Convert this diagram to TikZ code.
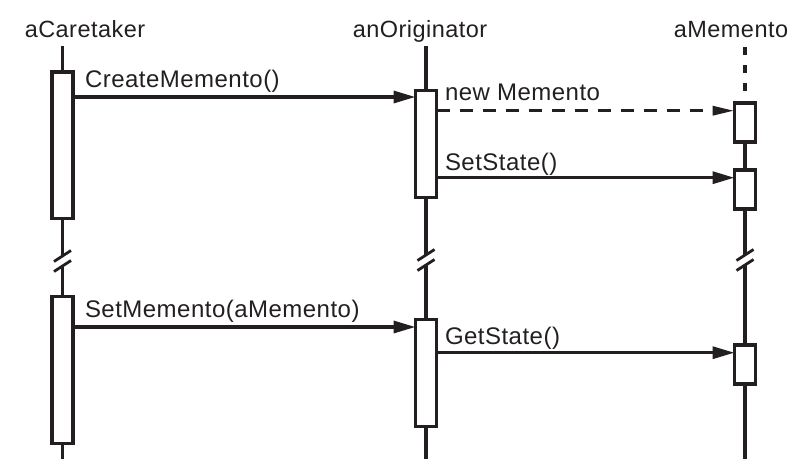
\documentclass[tikz,border=0pt]{standalone}
\usepackage{fontspec}
\setmainfont[LetterSpace=2]{Liberation Sans}
\usetikzlibrary{arrows.meta,calc}
\definecolor{ink}{HTML}{231F20}
\begin{document}
\begin{tikzpicture}[x=1pt,y=-1pt,
  every node/.style={inner sep=0pt,outer sep=0pt,text=ink},
  lbl/.style={font=\fontsize{24}{26}\selectfont,anchor=base west},
  ttl/.style={font=\fontsize{23.5}{26}\selectfont,anchor=base},
  act/.style={draw=ink,fill=white,line width=3.3pt,minimum width=21pt},
  life/.style={draw=ink,line width=3.3pt},
  lifethin/.style={draw=ink,line width=2.8pt},
  msg/.style={draw=ink,line width=3.3pt,-{Triangle[length=22pt,width=12pt]}},
  create/.style={draw=ink,line width=3.3pt,dash pattern=on 13pt off 10pt,-{Triangle[length=22pt,width=9pt]}},
  brk/.style={draw=ink,line width=2.8pt},
]
\useasboundingbox (0,0) rectangle (803,475);

% titles
\node[ttl] (tc) at (85,37.5) {aCaretaker};
\node[ttl] (to) at (420,37.5) {anOriginator};
\node[ttl] (tm) at (731,37.5) {aMemento};

% activation boxes
\node[act,minimum height=146.5pt] (c1) at (62.5,145.3) {};
\node[act,minimum height=147pt] (c2) at (62.5,370) {};
\node[act,minimum height=107pt] (o1) at (426,144) {};
\node[act,minimum height=107pt] (o2) at (426,373) {};
\node[act,minimum height=39pt] (ma) at (745,122.5) {};
\node[act,minimum height=39pt] (mb) at (745,189.5) {};
\node[act,minimum height=39pt] (mc) at (745,364.5) {};

% lifeline end points
\coordinate (ctop) at (62.5,46);
\coordinate (cb1) at (62.5,256);
\coordinate (cb2) at (62.5,266);
\coordinate (cbot) at (62.5,459);
\coordinate (otop) at (426,46);
\coordinate (ob1) at (426,255);
\coordinate (ob2) at (426,265);
\coordinate (obot) at (426,459);
\coordinate (mtop) at (745,47);
\coordinate (mb1) at (745,255);
\coordinate (mb2) at (745,265);
\coordinate (mbot) at (745,459);

\draw[life] (ctop) -- (c1.north);
\draw[life] (c1.south) -- (cb1);
\draw[lifethin] (cb2) -- (c2.north);
\draw[lifethin] (c2.south) -- (cbot);
\draw[life] (otop) -- (o1.north);
\draw[life] (o1.south) -- (ob1);
\draw[life] (ob2) -- (o2.north);
\draw[life] (o2.south) -- (obot);
\draw[life,dash pattern=on 8pt off 10pt] (mtop) -- (ma.north);
\draw[life] (ma.south) -- (mb.north);
\draw[life] (mb.south) -- (mb1);
\draw[life] (mb2) -- (mc.north);
\draw[life] (mc.south) -- (mbot);

% break marks
\foreach \p in {cb1,cb2,ob1,ob2,mb1,mb2}{
  \draw[brk] ($(\p)+(-8.5,5.5)$) -- ($(\p)+(8.5,-5.5)$);
}

% message y levels
\coordinate (y1) at (0,97);
\coordinate (y2) at (0,110.7);
\coordinate (y3) at (0,177.7);
\coordinate (y4) at (0,327);
\coordinate (y5) at (0,352.7);

\draw[msg] (c1.east |- y1) -- (o1.west |- y1);
\draw[create] (o1.east |- y2) -- (ma.west |- y2);
\draw[msg] (o1.east |- y3) -- (mb.west |- y3);
\draw[msg] (c2.east |- y4) -- (o2.west |- y4);
\draw[msg] (o2.east |- y5) -- (mc.west |- y5);

% labels
\node[lbl] (l1) at (85,87.3) {CreateMemento()};
\node[lbl] (l2) at (445,100.7) {new Memento};
\node[lbl] (l3) at (445,170.9) {SetState()};
\node[lbl] (l4) at (85,317) {SetMemento(aMemento)};
\node[lbl] (l5) at (445,344) {GetState()};
\end{tikzpicture}
\end{document}
